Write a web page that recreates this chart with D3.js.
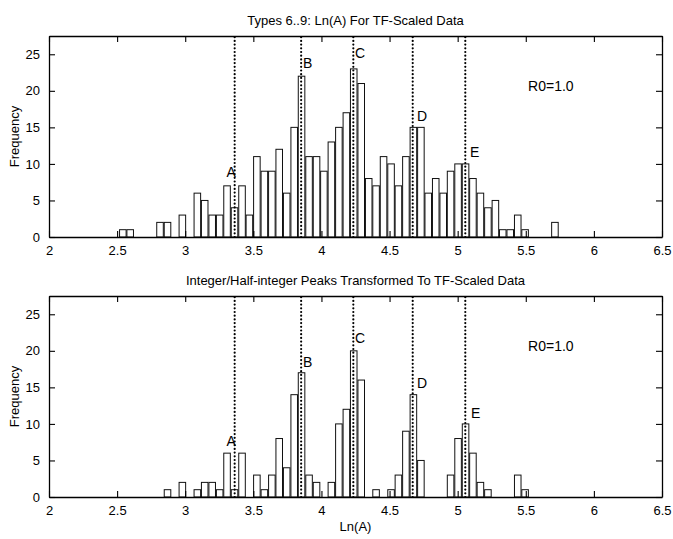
<!DOCTYPE html>
<html>
<head>
<meta charset="utf-8">
<script src="https://cdn.jsdelivr.net/npm/d3@7"></script>
<style>
  body { margin: 0; background: #fff; }
  text { font-family: "Liberation Sans", Arial, Helvetica, sans-serif; fill: #000; }
</style>
</head>
<body>
<div id="chart"></div>
<script>
// bin centres of the histogram
var binCenters = [2.542, 2.596, 2.651, 2.706, 2.760, 2.815, 2.870, 2.924, 2.979, 3.034,
  3.089, 3.143, 3.198, 3.253, 3.307, 3.362, 3.417, 3.471, 3.526, 3.581,
  3.636, 3.690, 3.745, 3.800, 3.854, 3.909, 3.964, 4.018, 4.073, 4.128,
  4.183, 4.237, 4.292, 4.347, 4.401, 4.456, 4.511, 4.565, 4.620, 4.675,
  4.730, 4.784, 4.839, 4.894, 4.948, 5.003, 5.058, 5.112, 5.167, 5.222,
  5.277, 5.331, 5.386, 5.441, 5.495, 5.550, 5.605, 5.659, 5.714];
var binWidth = 0.0547;

// counts, top panel (TF-scaled data)
var countsTop = [1, 1, 0, 0, 0, 2, 2, 0, 3, 0,
  6, 5, 3, 3, 7, 4, 7, 3, 11, 9,
  9, 12, 6, 15, 22, 11, 11, 9, 13, 15,
  17, 23, 21, 8, 7, 11, 10, 7, 11, 15,
  15, 6, 8, 6, 9, 10, 10, 8, 6, 4,
  5, 1, 1, 3, 1, 0, 0, 0, 2];

// counts, bottom panel (integer/half-integer peaks)
var countsBottom = [0, 0, 0, 0, 0, 0, 1, 0, 2, 0,
  1, 2, 2, 1, 6, 1, 6, 0, 3, 1,
  3, 8, 4, 14, 17, 3, 2, 0, 2, 10,
  12, 20, 16, 0, 1, 0, 1, 3, 9, 14,
  5, 0, 0, 0, 3, 8, 10, 6, 2, 1,
  0, 0, 0, 3, 1, 0, 0, 0, 0];

// peak lines and their letters
var peakNames = ["A", "B", "C", "D", "E"];
var peakX = [3.363, 3.851, 4.234, 4.670, 5.056];
var labelXTop = [3.303, 3.865, 4.247, 4.702, 5.091];
var labelYTop = [8.9, 23.8, 25.2, 16.6, 11.6];
var labelXBottom = [3.303, 3.865, 4.247, 4.702, 5.098];
var labelYBottom = [7.7, 18.5, 21.7, 15.6, 11.5];

var xTicks = [2, 2.5, 3, 3.5, 4, 4.5, 5, 5.5, 6, 6.5];
var yTicks = [0, 5, 10, 15, 20, 25];

var titles = ["Types 6..9: Ln(A) For TF-Scaled Data",
  "Integer/Half-integer Peaks Transformed To TF-Scaled Data"];

var W = 673, H = 539;
var left = 49, right = 662, panelH = 201;
var panelTops = [36, 296];

var svg = d3.select("#chart")
  .append("svg")
    .attr("width", W)
    .attr("height", H);

var x = d3.scaleLinear()
  .domain([2, 6.5])
  .range([left, right]);

function drawPanel(top, counts, lx, ly, title) {
  var y = d3.scaleLinear()
    .domain([0, 27.5])
    .range([top + panelH, top]);

  var g = svg.append("g");

  // bars
  g.selectAll("rect.bar")
    .data(binCenters)
    .enter()
    .filter(function (d, i) { return counts[i] > 0; })
    .append("rect")
      .attr("class", "bar")
      .attr("x", function (d) { return x(d - binWidth * 0.44); })
      .attr("width", function (d) { return x(d + binWidth * 0.44) - x(d - binWidth * 0.44); })
      .attr("y", function (d) { return y(counts[binCenters.indexOf(d)]); })
      .attr("height", function (d) { return y(0) - y(counts[binCenters.indexOf(d)]); })
      .style("fill", "#fff")
      .style("stroke", "#111")
      .style("stroke-width", 1);

  // dotted peak lines
  g.selectAll("line.peak")
    .data(peakX)
    .enter()
    .append("line")
      .attr("x1", function (d) { return x(d); })
      .attr("x2", function (d) { return x(d); })
      .attr("y1", y(0))
      .attr("y2", top)
      .style("stroke", "#000")
      .style("stroke-width", 2.2)
      .style("stroke-linecap", "round")
      .style("stroke-dasharray", "0,3.7");

  // letters
  g.selectAll("text.peak")
    .data(peakNames)
    .enter()
    .append("text")
      .attr("x", function (d, i) { return x(lx[i]); })
      .attr("y", function (d, i) { return y(ly[i]); })
      .attr("dy", "0.36em")
      .style("font-size", "14px")
      .text(function (d) { return d; });

  g.append("text")
    .attr("x", x(5.517))
    .attr("y", y(20.7))
    .attr("dy", "0.36em")
    .style("font-size", "14px")
    .text("R0=1.0");

  // axes, ticks inward on all four sides
  g.append("g")
    .attr("transform", "translate(0," + (top + panelH) + ")")
    .call(d3.axisBottom(x).tickValues(xTicks).tickSizeInner(-6).tickSizeOuter(0)
      .tickPadding(9).tickFormat(d3.format("")));
  g.append("g")
    .attr("transform", "translate(0," + top + ")")
    .call(d3.axisTop(x).tickValues(xTicks).tickSizeInner(-6).tickSizeOuter(0)
      .tickFormat(""));
  g.append("g")
    .attr("transform", "translate(" + left + ",0)")
    .call(d3.axisLeft(y).tickValues(yTicks).tickSizeInner(-6).tickSizeOuter(0)
      .tickPadding(9));
  g.append("g")
    .attr("transform", "translate(" + right + ",0)")
    .call(d3.axisRight(y).tickValues(yTicks).tickSizeInner(-6).tickSizeOuter(0)
      .tickFormat(""));

  g.selectAll(".domain").style("stroke", "#000").style("stroke-width", 1.3);
  g.selectAll(".tick line").style("stroke", "#000").style("stroke-width", 1.1);
  g.selectAll(".tick text")
    .style("font-size", "13px")
    .style("font-family", "'Liberation Sans', Arial, sans-serif");

  // title and y label
  g.append("text")
    .attr("x", (left + right) / 2)
    .attr("y", top - 11)
    .attr("text-anchor", "middle")
    .style("font-size", "13px")
    .text(title);

  g.append("text")
    .attr("transform", "translate(19," + (top + panelH / 2) + ") rotate(-90)")
    .attr("text-anchor", "middle")
    .style("font-size", "13px")
    .text("Frequency");
}

drawPanel(panelTops[0], countsTop, labelXTop, labelYTop, titles[0]);
drawPanel(panelTops[1], countsBottom, labelXBottom, labelYBottom, titles[1]);

svg.append("text")
  .attr("x", (left + right) / 2)
  .attr("y", 531)
  .attr("text-anchor", "middle")
  .style("font-size", "13px")
  .text("Ln(A)");
</script>
</body>
</html>
